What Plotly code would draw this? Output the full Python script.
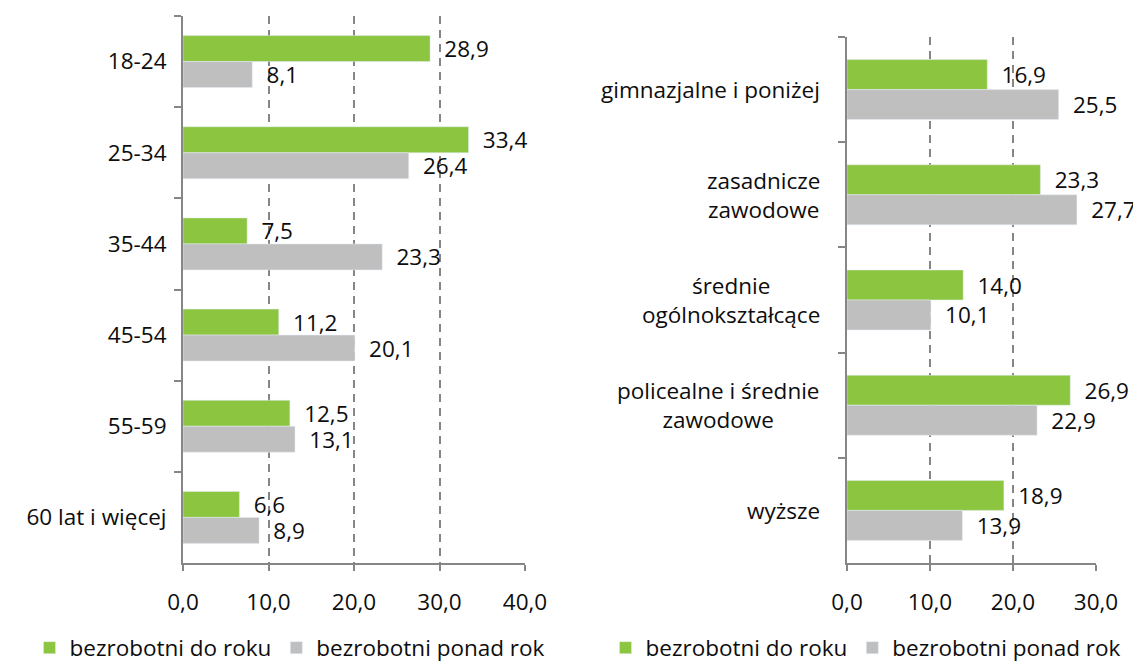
import plotly.graph_objects as go

# ---- data ----
age_groups = ["18-24", "25-34", "35-44", "45-54", "55-59", "60 lat i więcej"]
age_short = [28.9, 33.4, 7.5, 11.2, 12.5, 6.6]
age_long = [8.1, 26.4, 23.3, 20.1, 13.1, 8.9]

edu_groups = ["gimnazjalne i poniżej", "zasadnicze<br>zawodowe", "średnie<br>ogólnokształcące",
              "policealne i średnie<br>zawodowe", "wyższe"]
edu_short = [16.9, 23.3, 14.0, 26.9, 18.9]
edu_long = [25.5, 27.7, 10.1, 22.9, 13.9]

series_names = ["bezrobotni do roku", "bezrobotni ponad rok"]
x_ticks_left = [0, 10, 20, 30, 40]
x_ticks_right = [0, 10, 20, 30]

GREEN = "#8CC540"
GRAY = "#BFBFBF"
AXIS = "#868686"
FONT = "Open Sans, sans-serif"
TXT = "#0d0d0d"
FS = 22.5

# the page body adds an 8px margin; figure size compensates for it
W, H = 1133, 658
OFF = 8


def px_x(p):
    return (p - OFF) / W


def px_y(p):
    return 1 - (p - OFF) / H


def fmt(v):
    return "\u2002" + f"{v:.1f}".replace(".", ",")


fig = go.Figure()

for name, vals, col in [(series_names[0], age_short, GREEN), (series_names[1], age_long, GRAY)]:
    fig.add_trace(go.Bar(
        y=age_groups, x=vals, orientation="h", name=name, marker_color=col,
        text=[fmt(v) for v in vals], textposition="outside", cliponaxis=False,
        constraintext="none", textfont=dict(size=FS, color=TXT, family=FONT),
        xaxis="x", yaxis="y", legend="legend"))

for name, vals, col in [(series_names[0], edu_short, GREEN), (series_names[1], edu_long, GRAY)]:
    fig.add_trace(go.Bar(
        y=edu_groups, x=vals, orientation="h", name=name, marker_color=col,
        text=[fmt(v) for v in vals], textposition="outside", cliponaxis=False,
        constraintext="none", textfont=dict(size=FS, color=TXT, family=FONT),
        xaxis="x2", yaxis="y2", legend="legend2"))

# category labels for right chart (centered multi-line)
for g in edu_groups:
    fig.add_annotation(x=0, xref="x2", y=g, yref="y2", text=g, showarrow=False,
                       xanchor="right", align="center", xshift=-25,
                       font=dict(size=FS, color=TXT, family=FONT))

xcommon = dict(showline=True, linecolor=AXIS, linewidth=2, ticks="outside", ticklen=6,
               tickcolor=AXIS, tickwidth=2, showgrid=True, gridcolor=AXIS, gridwidth=1.8,
               griddash="8px,6px", zeroline=False, tickformat=".1f",
               tickfont=dict(size=FS, color=TXT, family=FONT), ticklabelstandoff=12)
ycommon = dict(showline=True, linecolor=AXIS, linewidth=2, ticks="outside", ticklen=7,
               tickcolor=AXIS, tickwidth=2, tickson="boundaries", showgrid=False,
               zeroline=False, type="category")

fig.update_layout(
    width=W, height=H, margin=dict(l=0, r=0, t=0, b=0, autoexpand=False),
    paper_bgcolor="white", plot_bgcolor="white",
    separators=", ",
    barmode="group", bargap=0.43, bargroupgap=0,
    font=dict(family=FONT, size=FS, color=TXT),
    xaxis=dict(domain=[px_x(183), px_x(525)], range=[0, 40], tickvals=x_ticks_left,
               anchor="y", **xcommon),
    yaxis=dict(domain=[px_y(563), px_y(16)], range=[5.5, -0.5], anchor="x",
               tickfont=dict(size=FS, color=TXT, family=FONT), ticklabelstandoff=10, **ycommon),
    xaxis2=dict(domain=[px_x(847), px_x(1096)], range=[0, 30], tickvals=x_ticks_right,
                anchor="y2", **xcommon),
    yaxis2=dict(domain=[px_y(563), px_y(37)], range=[4.5, -0.5], anchor="x2",
                showticklabels=False, **ycommon),
    legend=dict(orientation="h", x=px_x(290), xanchor="center", y=px_y(648),
                yanchor="middle", font=dict(size=FS, color=TXT, family=FONT),
                bgcolor="rgba(0,0,0,0)"),
    legend2=dict(orientation="h", x=px_x(866), xanchor="center", y=px_y(648),
                 yanchor="middle", font=dict(size=FS, color=TXT, family=FONT),
                 bgcolor="rgba(0,0,0,0)"),
)

fig.write_html("out.html")
